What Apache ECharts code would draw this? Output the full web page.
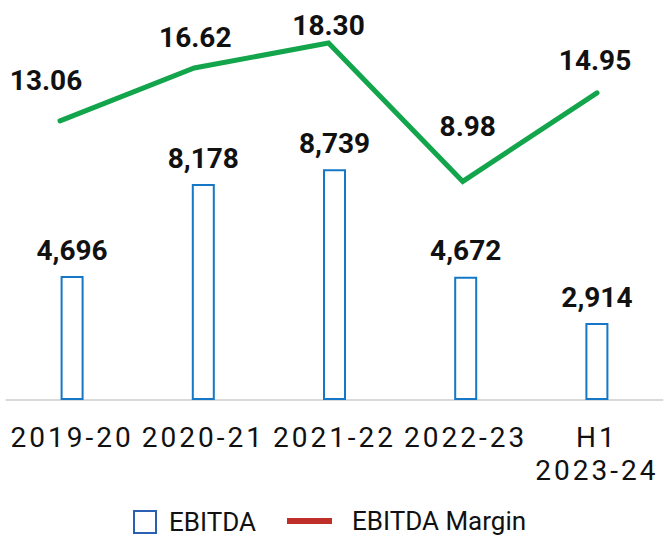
<!DOCTYPE html>
<html>
<head>
<meta charset="utf-8">
<script src="https://cdn.jsdelivr.net/npm/echarts@6/dist/echarts.min.js"></script>
<style>html,body{margin:0;padding:0;background:#fff}#c{width:664px;height:537px}</style>
</head>
<body>
<div id="c"></div>
<script>
var categories = ['2019-20', '2020-21', '2021-22', '2022-23', 'H1\n2023-24'];
var ebitda = [4696, 8178, 8739, 4672, 2914];
var ebitdaMargin = [13.06, 16.62, 18.30, 8.98, 14.95];

// label nudges for the margin line (layout only)
var marginLabelOffsets = [[-14, -26], [1, -16], [0, -4], [5, -41], [-2, -18]];

var FONT = 'Roboto';
var chart = echarts.init(document.getElementById('c'), null, {renderer: 'svg'});

var lineData = ebitdaMargin.map(function (v, i) {
  return {value: v, label: {offset: marginLabelOffsets[i]}};
});

chart.setOption({
  animation: false,
  backgroundColor: '#fff',
  grid: [
    {left: 6.5, right: 1.5, top: 4, bottom: 137},
    {left: 60, right: 67, top: 4, bottom: 137}
  ],
  xAxis: [
    {
      type: 'category', gridIndex: 0, data: categories,
      axisTick: {show: false},
      axisLine: {lineStyle: {color: '#d9d9d9', width: 2}},
      axisLabel: {
        color: '#111', fontFamily: FONT, fontSize: 28, lineHeight: 33,
        margin: 21, interval: 0
      }
    },
    {
      type: 'category', gridIndex: 1, data: categories, boundaryGap: false,
      show: false
    }
  ],
  yAxis: [
    {type: 'value', gridIndex: 0, min: 0, max: 15000, show: false, splitLine: {show: false}},
    {type: 'value', gridIndex: 1, min: -5.74, max: 20.93, show: false, splitLine: {show: false}}
  ],
  legend: [
    {
      left: 128, top: 504, itemWidth: 22, itemHeight: 22,
      textStyle: {fontFamily: FONT, fontSize: 26, color: '#111', padding: [0, 0, 0, 8]},
      data: [{name: 'EBITDA', icon: 'rect',
        itemStyle: {color: '#fff', borderColor: '#2b5fb4', borderWidth: 2}}]
    },
    {
      left: 282, top: 503, itemWidth: 45, itemHeight: 6,
      textStyle: {fontFamily: FONT, fontSize: 26, color: '#111', padding: [0, 0, 0, 15]},
      data: [{name: 'EBITDA Margin', icon: 'rect',
        itemStyle: {color: '#c0302a', borderWidth: 0}}]
    }
  ],
  series: [
    {
      name: 'EBITDA', type: 'bar', xAxisIndex: 0, yAxisIndex: 0,
      data: ebitda, barWidth: 23,
      itemStyle: {color: '#fff', borderColor: '#1577c6', borderWidth: 2},
      label: {
        show: true, position: 'top', distance: 12,
        fontFamily: FONT, fontSize: 28, fontWeight: 'bold', color: '#111',
        formatter: function (p) { return p.value.toLocaleString('en-US'); }
      }
    },
    {
      name: 'EBITDA Margin', type: 'line', xAxisIndex: 1, yAxisIndex: 1,
      data: lineData, symbol: 'circle', symbolSize: 0, showSymbol: true,
      lineStyle: {color: '#13a54b', width: 5, cap: 'round', join: 'miter'},
      itemStyle: {color: '#13a54b'},
      label: {
        show: true, position: 'top', distance: 0,
        fontFamily: FONT, fontSize: 28, fontWeight: 'bold', color: '#111',
        formatter: function (p) { return p.value.toFixed(2); }
      }
    }
  ]
});

// widen the tracking of the category labels, as in the reference
function spaceAxisLabels() {
  var parts = [];
  categories.forEach(function (c) { parts = parts.concat(c.split('\n')); });
  var texts = document.querySelectorAll('#c svg text');
  texts.forEach(function (t) {
    if (parts.indexOf(t.textContent) >= 0) {
      t.setAttribute('letter-spacing', '3px');
      t.style.letterSpacing = '3px';
    }
  });
}
chart.on('finished', spaceAxisLabels);
setTimeout(spaceAxisLabels, 0);
setTimeout(spaceAxisLabels, 100);
</script>
</body>
</html>
